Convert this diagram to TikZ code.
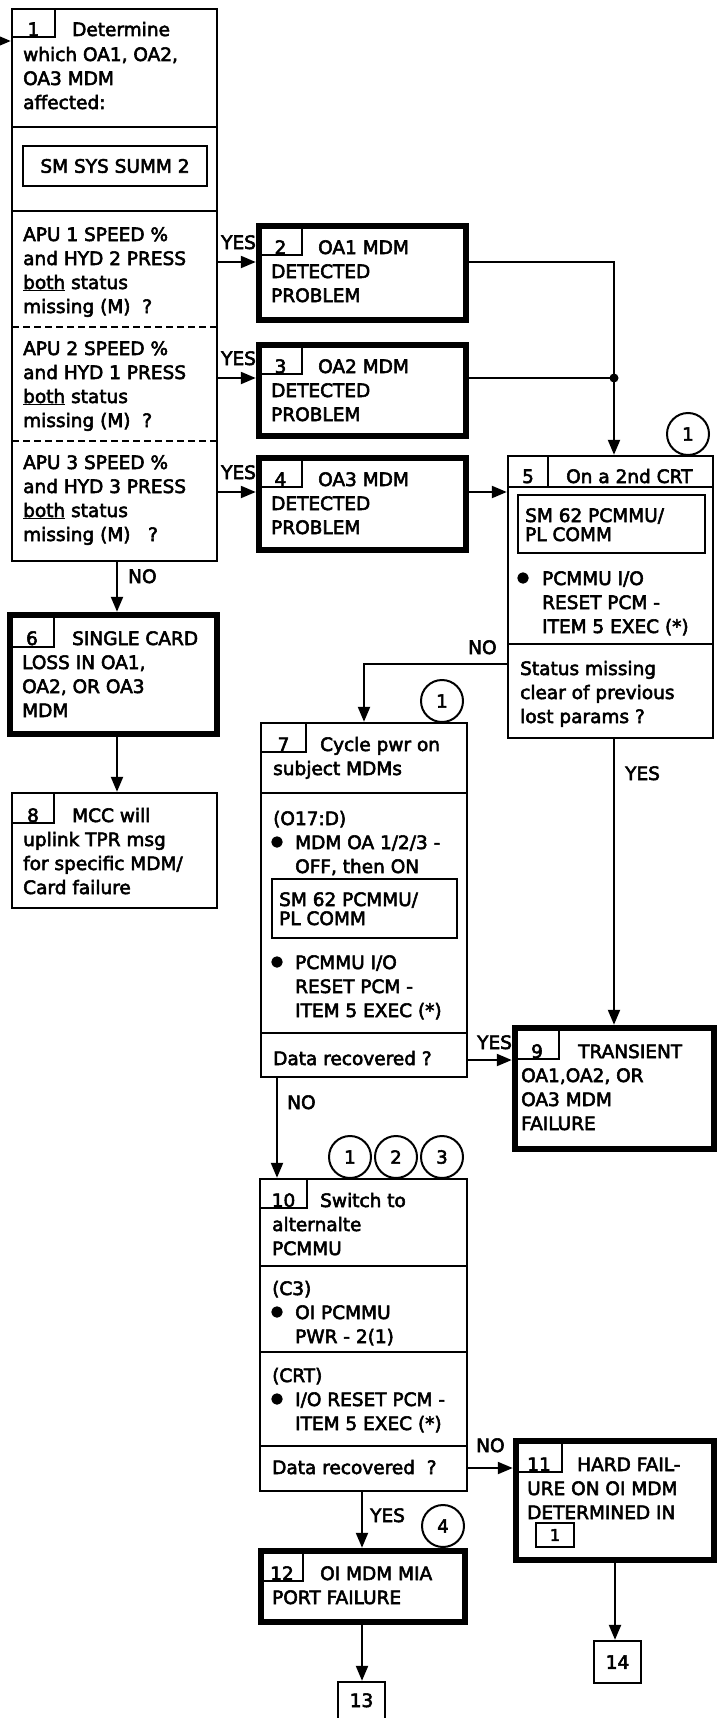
\documentclass[tikz,border=0pt]{standalone}
\usepackage{fontspec}
\setmainfont{DejaVu Sans}[FakeBold=3]
\usetikzlibrary{arrows.meta}
\begin{document}
\begin{tikzpicture}[x=1pt,y=-1pt,
  tx/.style={inner sep=0pt, anchor=base west, font=\fontsize{18.5}{24}\selectfont},
  tc/.style={inner sep=0pt, anchor=base, font=\fontsize{18.5}{24}\selectfont},
  bu/.style={inner sep=0pt, font=\fontsize{14}{14}\selectfont},
  thinbox/.style={draw, line width=2.4pt, inner sep=0pt, rectangle},
  thickbox/.style={draw, line width=6.5pt, inner sep=0pt, rectangle},
  ln/.style={line width=2.2pt},
  conn/.style={line width=2.2pt, -{Triangle[length=15pt,width=12pt]}},
  dsh/.style={line width=2.2pt, dash pattern=on 7pt off 4pt},
  circ/.style={circle, draw, line width=2pt, minimum size=42pt, inner sep=0pt, font=\fontsize{18}{18}\selectfont},
]
\path[use as bounding box, clip] (0,0) rectangle (717,1718);

% ---------- boxes ----------
\node[thinbox, minimum width=205pt, minimum height=552pt] (b1) at (114.5,285) {};
\node[thickbox, minimum width=207pt, minimum height=94pt] (b2) at (362.5,273) {};
\node[thickbox, minimum width=207pt, minimum height=91pt] (b3) at (362.5,390.5) {};
\node[thickbox, minimum width=207pt, minimum height=92pt] (b4) at (362.5,504) {};
\node[thinbox, minimum width=205pt, minimum height=282pt] (b5) at (610.5,597) {};
\node[thickbox, minimum width=207pt, minimum height=119pt] (b6) at (113.5,674.5) {};
\node[thinbox, minimum width=205pt, minimum height=115pt] (b8) at (114.5,850.5) {};
\node[thinbox, minimum width=206pt, minimum height=354pt] (b7) at (364,900) {};
\node[thickbox, minimum width=199pt, minimum height=121pt] (b9) at (614.5,1088.5) {};
\node[thinbox, minimum width=207pt, minimum height=312pt] (b10) at (363.5,1335) {};
\node[thickbox, minimum width=198pt, minimum height=119pt] (b11) at (615,1500.5) {};
\node[thickbox, minimum width=204pt, minimum height=71pt] (b12) at (363,1586.5) {};
\node[thinbox, minimum width=47pt, minimum height=60pt] (b13) at (361.5,1712) {};
\node[thinbox, minimum width=47pt, minimum height=42pt, font=\fontsize{18.5}{24}\selectfont] (b14) at (617.5,1662) {14};

% ---------- box 1 ----------
\draw[ln] (12,37) -- (55,37) -- (55,9);
\node[tc] (n1) at (33.5,36) {1};
\node[tx] (t1a) at (72,36) {Determine};
\node[tx] (t1b) at (23,61) {which OA1, OA2,};
\node[tx] (t1c) at (23,85) {OA3 MDM};
\node[tx] (t1d) at (23,109) {affected:};
\draw[ln] (12,127) -- (217,127);
\node[thinbox, minimum width=184pt, minimum height=40pt, font=\fontsize{18.5}{24}\selectfont] (sm1) at (115,166) {SM SYS SUMM 2};
\draw[ln] (12,211) -- (217,211);
\node[tx] (a1a) at (23,241) {APU 1 SPEED \%};
\node[tx] (a1b) at (23,265) {and HYD 2 PRESS};
\node[tx] (a1c) at (23,289) {\underline{both} status};
\node[tx] (a1d) at (23,313) {missing (M) \ ?};
\draw[dsh] (12,327) -- (217,327);
\node[tx] (a2a) at (23,355) {APU 2 SPEED \%};
\node[tx] (a2b) at (23,379) {and HYD 1 PRESS};
\node[tx] (a2c) at (23,403) {\underline{both} status};
\node[tx] (a2d) at (23,427) {missing (M) \ ?};
\draw[dsh] (12,441) -- (217,441);
\node[tx] (a3a) at (23,469) {APU 3 SPEED \%};
\node[tx] (a3b) at (23,493) {and HYD 3 PRESS};
\node[tx] (a3c) at (23,517) {\underline{both} status};
\node[tx] (a3d) at (23,541) {missing (M) \ \ ?};

% ---------- boxes 2-4 ----------
\draw[ln] (259,255) -- (302,255) -- (302,226);
\node[tc] (n2) at (280.5,254) {2};
\node[tx] (t2a) at (318,254) {OA1 MDM};
\node[tx] (t2b) at (271,278) {DETECTED};
\node[tx] (t2c) at (271,302) {PROBLEM};
\draw[ln] (259,374) -- (302,374) -- (302,345);
\node[tc] (n3) at (280.5,373) {3};
\node[tx] (t3a) at (318,373) {OA2 MDM};
\node[tx] (t3b) at (271,397) {DETECTED};
\node[tx] (t3c) at (271,421) {PROBLEM};
\draw[ln] (259,487) -- (302,487) -- (302,458);
\node[tc] (n4) at (280.5,486) {4};
\node[tx] (t4a) at (318,486) {OA3 MDM};
\node[tx] (t4b) at (271,510) {DETECTED};
\node[tx] (t4c) at (271,534) {PROBLEM};

% ---------- box 5 ----------
\draw[ln] (548,456) -- (548,487);
\draw[ln] (508,487) -- (713,487);
\node[tc] (n5) at (528,483) {5};
\node[tx] (t5a) at (566,483) {On a 2nd CRT};
\node[thinbox, minimum width=187pt, minimum height=58pt] (sm5) at (611.5,524) {};
\node[tx] (s5a) at (525,522) {SM 62 PCMMU/};
\node[tx] (s5b) at (525,541) {PL COMM};
\node[bu] (u5) at (523,578) {●};
\node[tx] (t5b) at (542,585) {PCMMU I/O};
\node[tx] (t5c) at (542,609) {RESET PCM -};
\node[tx] (t5d) at (542,633) {ITEM 5 EXEC (*)};
\draw[ln] (508,644) -- (713,644);
\node[tx] (t5e) at (520,675) {Status missing};
\node[tx] (t5f) at (520,699) {clear of previous};
\node[tx] (t5g) at (520,723) {lost params ?};

% ---------- box 6 ----------
\draw[ln] (10,647) -- (54,647) -- (54,615);
\node[tc] (n6) at (32,645) {6};
\node[tx] (t6a) at (72,645) {SINGLE CARD};
\node[tx] (t6b) at (22,669) {LOSS IN OA1,};
\node[tx] (t6c) at (22,693) {OA2, OR OA3};
\node[tx] (t6d) at (22,717) {MDM};

% ---------- box 8 ----------
\draw[ln] (12,823) -- (54,823) -- (54,793);
\node[tc] (n8) at (33,822) {8};
\node[tx] (t8a) at (72,822) {MCC will};
\node[tx] (t8b) at (23,846) {uplink TPR msg};
\node[tx] (t8c) at (23,870) {for specific MDM/};
\node[tx] (t8d) at (23,894) {Card failure};

% ---------- box 7 ----------
\draw[ln] (261,752) -- (306,752) -- (306,723);
\node[tc] (n7) at (283.5,751) {7};
\node[tx] (t7a) at (320,751) {Cycle pwr on};
\node[tx] (t7b) at (273,775) {subject MDMs};
\draw[ln] (261,793) -- (467,793);
\node[tx] (t7c) at (273,825) {(O17:D)};
\node[bu] (u7a) at (277,842) {●};
\node[tx] (t7d) at (295,849) {MDM OA 1/2/3 -};
\node[tx] (t7e) at (295,873) {OFF, then ON};
\node[thinbox, minimum width=185pt, minimum height=59pt] (sm7) at (364.5,908.5) {};
\node[tx] (s7a) at (279,906) {SM 62 PCMMU/};
\node[tx] (s7b) at (279,925) {PL COMM};
\node[bu] (u7b) at (277,962) {●};
\node[tx] (t7f) at (295,969) {PCMMU I/O};
\node[tx] (t7g) at (295,993) {RESET PCM -};
\node[tx] (t7h) at (295,1017) {ITEM 5 EXEC (*)};
\draw[ln] (261,1033) -- (467,1033);
\node[tx] (t7i) at (273,1065) {Data recovered ?};

% ---------- box 9 ----------
\draw[ln] (515,1059) -- (559,1059) -- (559,1028);
\node[tc] (n9) at (537,1058) {9};
\node[tx] (t9a) at (578,1058) {TRANSIENT};
\node[tx] (t9b) at (521,1082) {OA1,OA2, OR};
\node[tx] (t9c) at (521,1106) {OA3 MDM};
\node[tx] (t9d) at (521,1130) {FAILURE};

% ---------- box 10 ----------
\draw[ln] (260,1208) -- (307,1208) -- (307,1179);
\node[tc] (n10) at (283.5,1207) {10};
\node[tx] (t10a) at (320,1207) {Switch to};
\node[tx] (t10b) at (272,1231) {alternalte};
\node[tx] (t10c) at (272,1255) {PCMMU};
\draw[ln] (260,1266) -- (467,1266);
\node[tx] (t10d) at (272,1295) {(C3)};
\node[bu] (u10a) at (277,1312) {●};
\node[tx] (t10e) at (295,1319) {OI PCMMU};
\node[tx] (t10f) at (295,1343) {PWR - 2(1)};
\draw[ln] (260,1352) -- (467,1352);
\node[tx] (t10g) at (272,1382) {(CRT)};
\node[bu] (u10b) at (277,1399) {●};
\node[tx] (t10h) at (295,1406) {I/O RESET PCM -};
\node[tx] (t10i) at (295,1430) {ITEM 5 EXEC (*)};
\draw[ln] (260,1446) -- (467,1446);
\node[tx] (t10j) at (272,1474) {Data recovered \ ?};

% ---------- box 11 ----------
\draw[ln] (516,1472) -- (562,1472) -- (562,1441);
\node[tc] (n11) at (539,1471) {11};
\node[tx] (t11a) at (577,1471) {HARD FAIL-};
\node[tx] (t11b) at (527,1495) {URE ON OI MDM};
\node[tx] (t11c) at (527,1519) {DETERMINED IN};
\node[thinbox, line width=2.2pt, minimum width=38pt, minimum height=24pt, font=\fontsize{16}{16}\selectfont] (b11r) at (555,1535) {1};

% ---------- box 12, 13 ----------
\draw[ln] (261,1581) -- (303,1581) -- (303,1551);
\node[tc] (n12) at (282,1580) {12};
\node[tx] (t12a) at (320,1580) {OI MDM MIA};
\node[tx] (t12b) at (272,1604) {PORT FAILURE};
\node[tc] (n13) at (361.5,1707) {13};

% ---------- circles ----------
\node[circ] (c5) at (688,434) {1};
\node[circ] (c7) at (442,701) {1};
\node[circ] (c10a) at (350,1157) {1};
\node[circ] (c10b) at (396,1157) {2};
\node[circ] (c10c) at (442,1157) {3};
\node[circ] (c12) at (443,1526) {4};

% ---------- connectors ----------
\coordinate (in1) at (0,41);
\draw[conn] (in1) -- (b1.west |- in1);
\coordinate (y2) at (0,262);
\coordinate (y3) at (0,378);
\coordinate (y4) at (0,492);
\draw[conn] (b1.east |- y2) -- (b2.west |- y2);
\draw[conn] (b1.east |- y3) -- (b3.west |- y3);
\draw[conn] (b1.east |- y4) -- (b4.west |- y4);
\coordinate (r2) at (614,262);
\coordinate (r3) at (614,378);
\draw[conn] (b2.east |- r2) -- (r2) -- (r2 |- b5.north);
\draw[ln] (b3.east |- r3) -- (r3);
\fill (r3) circle (4.5);
\draw[conn] (b4.east |- y4) -- (b5.west |- y4);
\coordinate (xa) at (117,0);
\draw[conn] (b1.south -| xa) -- (b6.north -| xa);
\draw[conn] (b6.south -| xa) -- (b8.north -| xa);
\coordinate (n57) at (364,664);
\draw[conn] (b5.west |- n57) -- (n57) -- (n57 |- b7.north);
\coordinate (x59) at (614,0);
\draw[conn] (b5.south -| x59) -- (b9.north -| x59);
\coordinate (y79) at (0,1060);
\draw[conn] (b7.east |- y79) -- (b9.west |- y79);
\coordinate (x710) at (277,0);
\draw[conn] (b7.south -| x710) -- (b10.north -| x710);
\coordinate (y1011) at (0,1468);
\draw[conn] (b10.east |- y1011) -- (b11.west |- y1011);
\coordinate (x1012) at (362,0);
\draw[conn] (b10.south -| x1012) -- (b12.north -| x1012);
\draw[conn] (b12.south -| x1012) -- (b13.north -| x1012);
\coordinate (x1114) at (615,0);
\draw[conn] (b11.south -| x1114) -- (b14.north -| x1114);

% ---------- labels ----------
\node[tx] (yes2) at (221,249) {YES};
\node[tx] (yes3) at (221,365) {YES};
\node[tx] (yes4) at (221,479) {YES};
\node[tx] (no16) at (128,583) {NO};
\node[tx] (no57) at (468,654) {NO};
\node[tx] (yes59) at (625,780) {YES};
\node[tx] (yes79) at (477,1049) {YES};
\node[tx] (no710) at (287,1109) {NO};
\node[tx] (no1011) at (476,1452) {NO};
\node[tx] (yes1012) at (370,1522) {YES};
\end{tikzpicture}
\end{document}
